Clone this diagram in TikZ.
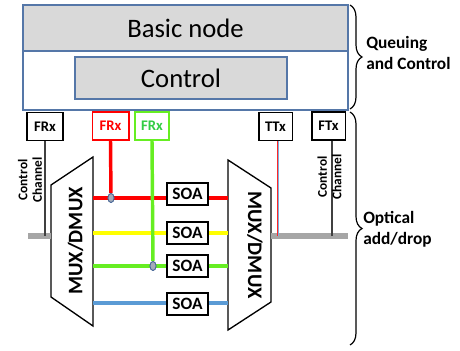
\documentclass[tikz,border=0pt]{standalone}
\usepackage{fontspec}
\setmainfont{Carlito}
\usetikzlibrary{decorations.pathreplacing,shapes.geometric}
\definecolor{bordblue}{HTML}{5577A8}
\definecolor{boxgray}{HTML}{D9D9D9}
\definecolor{bargray}{HTML}{A6A6A6}
\definecolor{chred}{HTML}{FF0000}
\definecolor{chyellow}{HTML}{FFFF00}
\definecolor{chgreen}{HTML}{66EE22}
\definecolor{chblue}{HTML}{5B9BD5}
\definecolor{txtgreen}{HTML}{33CC44}
\definecolor{dotgray}{HTML}{A4ABB8}
\definecolor{dotblue}{HTML}{4A6A9A}
\definecolor{linegray}{HTML}{404040}
\begin{document}
\begin{tikzpicture}[x=0.75pt,y=-0.75pt,
  sbox/.style={draw, line width=1pt, fill=white, inner sep=0pt, minimum height=21pt, font=\bfseries\fontsize{11}{13}\selectfont},
  soabox/.style={draw, line width=1pt, fill=white, inner sep=0pt, minimum width=30.75pt, minimum height=16.5pt, font=\bfseries\fontsize{13}{15}\selectfont},
  chan/.style={line width=2.6pt},
  bar/.style={line width=3.8pt, draw=bargray},
  dot/.style={ellipse, draw=dotblue, fill=dotgray, line width=0.6pt, minimum width=4.5pt, minimum height=6.75pt, inner sep=0pt},
  mux/.style={draw, line width=1pt, fill=white},
  muxtext/.style={font=\bfseries\fontsize{15.5}{18}\selectfont},
  side/.style={font=\bfseries\fontsize{13}{16}\selectfont, align=left, anchor=west, inner sep=0pt},
  cc/.style={font=\bfseries\fontsize{10}{11}\selectfont, align=center, rotate=90, inner sep=0pt},
  brc/.style={decorate, decoration={brace, amplitude=9pt}, line width=0.9pt},
  thin/.style={line width=0.8pt, draw=linegray}
]
\useasboundingbox (0,0) rectangle (460,350);

% top section
\node[draw=bordblue, line width=1.1pt, minimum width=243.75pt, minimum height=78.75pt, inner sep=0pt] (qc) at (185.5,57.5) {};
\node[draw=bordblue, fill=boxgray, line width=1.1pt, minimum width=243.75pt, minimum height=34.5pt, inner sep=0pt, font=\fontsize{20}{24}\selectfont] (basic) at (185.5,28) {Basic node};
\node[draw=bordblue, fill=boxgray, line width=1.1pt, minimum width=159pt, minimum height=31.5pt, inner sep=0pt, font=\fontsize{20}{24}\selectfont] (ctrl) at (181,78) {Control};

% muxes
\draw[mux] (51,185) coordinate (mlTL) -- (93,157) coordinate (mlTR) -- (93,326) coordinate (mlBR) -- (51,297) coordinate (mlBL) -- cycle;
\draw[mux] (228,160) coordinate (mrTL) -- (271,188) coordinate (mrTR) -- (271,302) coordinate (mrBR) -- (228,330) coordinate (mrBL) -- cycle;
\node[muxtext, rotate=90] (muxl) at (75.5,241) {MUX/DMUX};
\node[muxtext, rotate=-90] (muxr) at (255,245) {MUX/DMUX};

% coordinates
\coordinate (gL) at (28,236);
\coordinate (gLm) at (51,236);
\coordinate (gRm) at (271,236);
\coordinate (gR) at (348,236);
\coordinate (lR) at (93,198);  \coordinate (rR) at (228,198);
\coordinate (lY) at (93,233);  \coordinate (rY) at (228,233);
\coordinate (lG) at (93,266);  \coordinate (rG) at (228,266);
\coordinate (lB) at (93,303);  \coordinate (rB) at (228,303);

% small boxes
\node[sbox, minimum width=27pt] (frx) at (45,126.5) {FRx};
\node[sbox, draw=chred, text=chred, minimum width=27.5pt] (frxr) at (110.5,126) {FRx};
\node[sbox, draw=chgreen, text=txtgreen, minimum width=25.5pt] (frxg) at (152,126) {FRx};
\node[sbox, minimum width=25pt] (ttx) at (275.5,126.5) {TTx};
\node[sbox, minimum width=25pt] (ftx) at (328.5,126) {FTx};

% gray bars
\draw[bar] (gL) -- (gLm);
\draw[bar] (gRm) -- (gR);

% control channel lines
\draw[thin] (frx.south) -- (frx.south |- gL);
\draw[thin] ([xshift=2.6pt]ftx.south) -- ([xshift=2.6pt]ftx.south |- gR);
\draw[line width=0.75pt, draw=chred!85!white] ([xshift=1.2pt]ttx.south) -- ([xshift=1.2pt]ttx.south |- gR);
\draw[line width=0.75pt, draw=chblue!80!white] ([xshift=2.3pt]ttx.south) -- ([xshift=2.3pt]ttx.south |- gR);

% wavelength channels
\draw[chan, draw=chred] (lR) -- (rR);
\draw[chan, draw=chyellow] (lY) -- (rY);
\draw[chan, draw=chgreen] (lG) -- (rG);
\draw[chan, draw=chblue] (lB) -- (rB);

% drop lines
\node[dot] (dotr) at (111,198) {};
\node[dot] (dotg) at (153,266) {};
\draw[chan, draw=chred] (frxr.south) -- (dotr);
\draw[chan, draw=chgreen] (frxg.south) -- (dotg);
\node[dot] at (dotr) {};
\node[dot] at (dotg) {};

% SOAs
\node[soabox] (soa1) at (187.5,194) {SOA};
\node[soabox] (soa2) at (187.5,233) {SOA};
\node[soabox] (soa3) at (187.5,266) {SOA};
\node[soabox] (soa4) at (187.5,304) {SOA};

% control channel labels
\node[cc] (ccl) at (30,180) {Control\\Channel};
\node[cc] (ccr) at (329.5,177) {Control\\Channel};

% braces and labels
\draw[brc] (350,5) -- (350,109);
\draw[brc] (350,112) -- (350,345);
\node[side] (lab1) at (366,53) {Queuing\\and Control};
\node[side] (lab2) at (363,229) {Optical\\add/drop};
\end{tikzpicture}
\end{document}
